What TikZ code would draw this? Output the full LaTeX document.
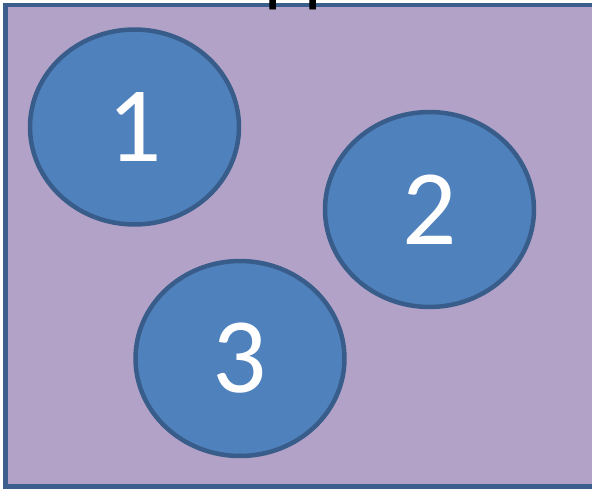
\documentclass[tikz,border=0pt]{standalone}
\usepackage{fontspec}
\setmainfont{Carlito}
\usetikzlibrary{shapes.geometric}
\definecolor{BoxFill}{HTML}{B3A2C7}
\definecolor{BoxLine}{HTML}{3B5E8C}
\definecolor{BlobFill}{HTML}{4F81BD}
\definecolor{BlobLine}{HTML}{385D8A}

\tikzset{
  blob/.style={
    ellipse,
    draw=BlobLine,
    fill=BlobFill,
    line width=0.09cm,
    inner sep=0pt,
    minimum width=4.18cm,
    minimum height=3.9cm,
    text=white,
    font=\fontsize{61}{61}\selectfont
  }
}

\begin{document}
\begin{tikzpicture}[x=0.02cm,y=-0.02cm]
  \useasboundingbox (0,0) rectangle (592,490);
  \clip (0,0) rectangle (592,490);
  % group box
  \draw[draw=BoxLine,fill=BoxFill,line width=0.09cm] (5.5,5) rectangle (610,486.5);
  \node[anchor=base,font=\fontsize{44}{44}\selectfont] (title) at (297,-3) {Gruppe A};
  % members
  \node[blob] (g1) at (134.5,127) {1};
  \node[blob] (g2) at (429.5,209.5) {2};
  \node[blob] (g3) at (240,358.5) {3};
\end{tikzpicture}
\end{document}
